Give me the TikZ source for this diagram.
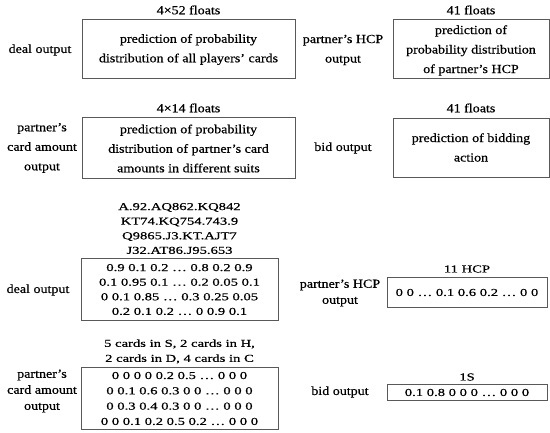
\documentclass[tikz,border=0pt]{standalone}
\usepackage{fontspec}
\setmainfont{Liberation Serif}
\newfontfamily\bigfont[FakeStretch=1.14,FakeBold=0.6]{Liberation Serif}
\newfontfamily\smallfont[FakeStretch=1.38,FakeBold=0.6]{Liberation Serif}
\begin{document}
\begin{tikzpicture}[x=1pt,y=-1pt,
  boxed/.style={draw=black!65,line width=0.9pt,inner sep=0pt,anchor=center},
  bigtxt/.style={align=center,font=\bigfont\fontsize{12.3}{19.5}\selectfont,inner sep=0pt},
  smalltxt/.style={align=center,font=\smallfont\fontsize{10.6}{14.6}\selectfont,inner sep=0pt},
  lbl/.style={align=center,font=\bigfont\fontsize{12.3}{19.5}\selectfont,inner sep=0pt},
  slbl/.style={align=center,font=\bigfont\fontsize{12.3}{16}\selectfont,inner sep=0pt}]
\useasboundingbox (0,0) rectangle (550,433);
% top half
\node[boxed,minimum width=213pt,minimum height=59pt] (b1) at (188.5,48.5) {};
\node[bigtxt] (t1) at (188.5,49.5) {prediction of probability\\distribution of all players’ cards};
\node[lbl] (h1) at (188.5,10) {4×52 floats};
\node[lbl] (l1) at (40,50) {deal output};

\node[boxed,minimum width=156pt,minimum height=59pt] (b2) at (471,48.5) {};
\node[bigtxt] (t2) at (471,50.5) {prediction of\\probability distribution\\of partner’s HCP};
\node[lbl] (h2) at (471,10) {41 floats};
\node[lbl] (l2) at (343,50) {partner’s HCP\\output};

\node[boxed,minimum width=213pt,minimum height=61pt] (b3) at (188.5,147.5) {};
\node[bigtxt] (t3) at (188.5,148.5) {prediction of probability\\distribution of partner’s card\\amounts in different suits};
\node[lbl] (h3) at (188.5,108) {4×14 floats};
\node[lbl] (l3) at (42,148) {partner’s\\card amount\\output};

\node[boxed,minimum width=156pt,minimum height=59pt] (b4) at (471,147.5) {};
\node[bigtxt] (t4) at (471,147.5) {prediction of bidding\\action};
\node[lbl] (h4) at (471,108) {41 floats};
\node[lbl] (l4) at (343,148) {bid output};

% bottom half
\node[boxed,minimum width=197pt,minimum height=62pt] (b5) at (179.5,289) {};
\node[smalltxt] (t5) at (179.5,289.5) {0.9 0.1 0.2 … 0.8 0.2 0.9\\0.1 0.95 0.1 … 0.2 0.05 0.1\\0 0.1 0.85 … 0.3 0.25 0.05\\0.2 0.1 0.2 … 0 0.9 0.1};
\node[smalltxt] (h5) at (179.5,228.5) {A.92.AQ862.KQ842\\KT74.KQ754.743.9\\Q9865.J3.KT.AJT7\\J32.AT86.J95.653};
\node[slbl] (l5) at (38,290) {deal output};

\node[boxed,minimum width=160pt,minimum height=30pt] (b6) at (467,292) {};
\node[smalltxt] (t6) at (467,292.5) {0 0 … 0.1 0.6 0.2 … 0 0};
\node[smalltxt] (h6) at (467,269) {11 HCP};
\node[slbl] (l6) at (340,293) {partner’s HCP\\output};

\node[boxed,minimum width=197pt,minimum height=62pt] (b7) at (179.5,398) {};
\node[smalltxt,font=\smallfont\fontsize{10.6}{15.3}\selectfont] (t7) at (179.5,398.5) {0 0 0 0 0.2 0.5 … 0 0 0\\0 0.1 0.6 0.3 0 0 … 0 0 0\\0 0.3 0.4 0.3 0 0 … 0 0 0\\0 0 0.1 0.2 0.5 0.2 … 0 0 0};
\node[smalltxt,font=\smallfont\fontsize{10.6}{15}\selectfont] (h7) at (179.5,351.5) {5 cards in S, 2 cards in H,\\2 cards in D, 4 cards in C};
\node[slbl] (l7) at (42,391) {partner’s\\card amount\\output};

\node[boxed,minimum width=160pt,minimum height=16pt] (b8) at (467,392) {};
\node[smalltxt] (t8) at (467,392.5) {0.1 0.8 0 0 0 … 0 0 0};
\node[smalltxt] (h8) at (467,377) {1S};
\node[slbl] (l8) at (340,392) {bid output};
\end{tikzpicture}
\end{document}
